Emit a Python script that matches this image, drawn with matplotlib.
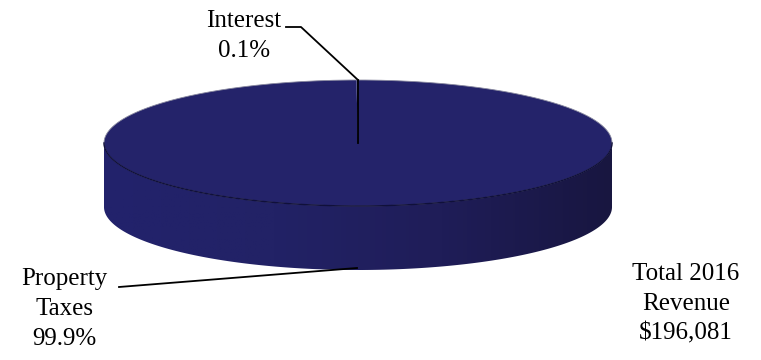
import numpy as np
import matplotlib
matplotlib.use("Agg")
import matplotlib.pyplot as plt
from matplotlib.patches import Polygon
from matplotlib.colors import LinearSegmentedColormap

categories = ["Property\nTaxes", "Interest"]
values = [99.9, 0.1]
pct_labels = ["99.9%", "0.1%"]
total_text = "Total 2016\nRevenue\n$196,081"

W, H = 761, 360
fig = plt.figure(figsize=(W / 100, H / 100), dpi=100)
ax = fig.add_axes([0, 0, 1, 1])
ax.set_xlim(0, W)
ax.set_ylim(H, 0)
ax.axis("off")
plt.rcParams["font.family"] = ["Liberation Serif", "DejaVu Serif"]

cx, cy, a, b, depth = 358, 143, 254, 63, 64

def ell(t, yoff=0):
    return cx + a * np.cos(t), cy - b * np.sin(t) + yoff

# side wall (front half)
t = np.linspace(np.pi, 2 * np.pi, 300)
x1, y1 = ell(t)
x2, y2 = ell(t[::-1], depth)
side = Polygon(np.column_stack([np.r_[x1, x2], np.r_[y1, y2]]), closed=True,
               facecolor="none", edgecolor="none")
ax.add_patch(side)
cmap = LinearSegmentedColormap.from_list("side", ["#22226c", "#222266", "#1f1d58", "#181640"])
grad = np.linspace(0, 1, 256)[None, :]
im = ax.imshow(grad, cmap=cmap, extent=[cx - a, cx + a, cy + b + depth, cy], aspect="auto", zorder=1)
im.set_clip_path(side)
ax.plot(x1, y1, color="#10103a", lw=1.0, zorder=3)

# top face wedges from values
total = sum(values)
start = 90.0
colors = ["#24236a", "#24236a"]
cum = start
for v, c in zip(values, colors):
    ang = np.radians(np.linspace(cum, cum - 360 * v / total, 400))
    xs, ys = ell(ang)
    poly = Polygon(np.column_stack([np.r_[cx, xs], np.r_[cy, ys]]), closed=True,
                   facecolor=c, edgecolor="none", zorder=2)
    ax.add_patch(poly)
    cum -= 360 * v / total
tt = np.linspace(0, 2 * np.pi, 600)
ex, ey = ell(tt)
ax.plot(ex, ey, color="#8a8aa0", lw=0.6, zorder=2.5)
# slice boundary
bx, by = ell(np.radians(start))
ax.plot([cx, bx], [cy, by], color="black", lw=1.3, zorder=4)

fs = 18
# Interest label
ax.plot([bx, 301, 286], [by, 27, 27], color="black", lw=1.3, zorder=5)
ax.text(244, 36, categories[1] + "\n" + pct_labels[1], ha="center", va="center",
        fontsize=fs, linespacing=1.45)
# Property Taxes label
ax.plot([357, 119], [268, 287], color="black", lw=1.3, zorder=5)
ax.text(64, 309, categories[0] + "\n" + pct_labels[0], ha="center", va="center",
        fontsize=fs, linespacing=1.45)
ax.text(686, 304, total_text, ha="center", va="center", fontsize=fs, linespacing=1.45)

fig.savefig("out.png", dpi=100)
